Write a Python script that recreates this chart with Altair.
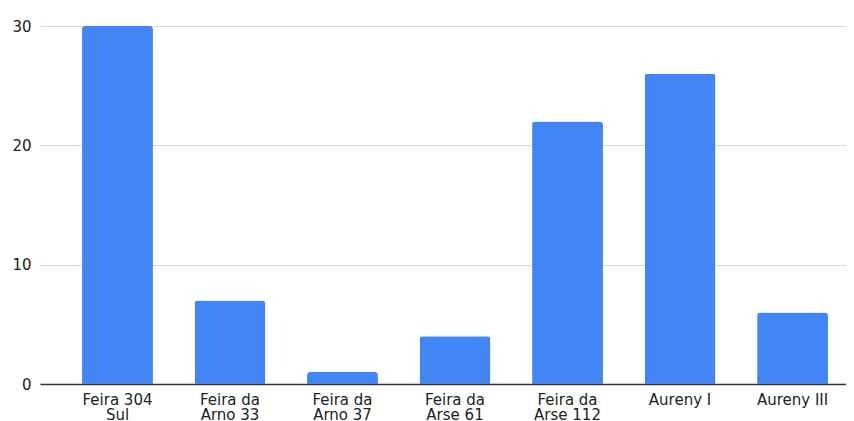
import altair as alt
import pandas as pd

categories = ["Feira 304\nSul", "Feira da\nArno 33", "Feira da\nArno 37", "Feira da\nArse 61",
              "Feira da\nArse 112", "Aureny I", "Aureny III"]
values = [30, 7, 1, 4, 22, 26, 6]
y_ticks = [0, 10, 20, 30]

df = pd.DataFrame({"feira": categories, "valor": values})

chart = alt.Chart(df).mark_bar(
    color="#4285F4", cornerRadiusTopLeft=3, cornerRadiusTopRight=3
).encode(
    x=alt.X("feira:N", sort=categories, title=None,
            scale=alt.Scale(paddingInner=0.37, paddingOuter=0.267, align=0.7),
            axis=alt.Axis(labelAngle=0, ticks=False, labelPadding=8,
                          labelExpr="split(datum.label, '\\n')",
                          labelFont="DejaVu Sans", labelFontSize=15, labelColor="#222",
                          labelLineHeight=15,
                          domainColor="#333", domainWidth=1.3, grid=False)),
    y=alt.Y("valor:Q", title=None,
            scale=alt.Scale(domain=[0, 30], nice=False),
            axis=alt.Axis(values=y_ticks, ticks=False, domain=False, labelPadding=9,
                          labelFont="DejaVu Sans", labelFontSize=15, labelColor="#222",
                          gridColor="#d9d9d9", gridWidth=1)),
).properties(
    width=806, height=358,
    padding={"left": 32, "top": 18, "right": 0, "bottom": 37},
    autosize="none",
).configure_view(stroke=None)

chart.save("out.html", embed_options={"renderer": "svg", "actions": False})
